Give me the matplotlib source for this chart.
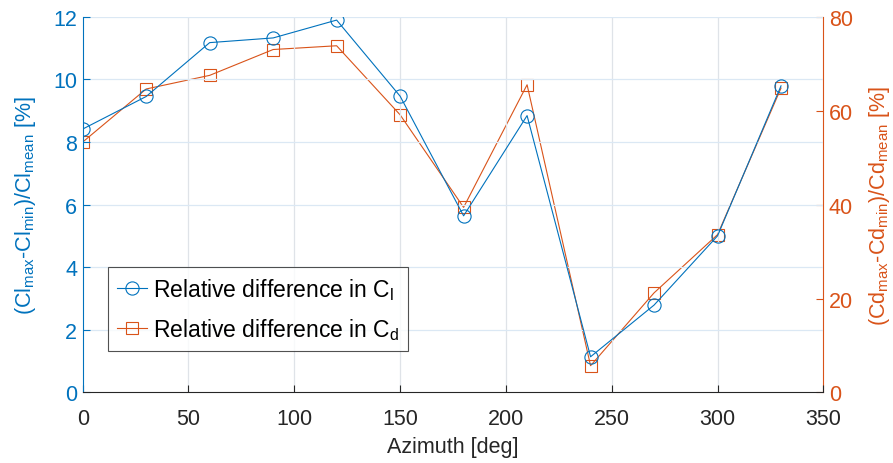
import matplotlib
matplotlib.use("Agg")
import matplotlib.pyplot as plt

plt.rcParams['font.family'] = ['Liberation Sans', 'DejaVu Sans']
plt.rcParams['mathtext.fontset'] = 'custom'
plt.rcParams['mathtext.rm'] = 'Liberation Sans'
plt.rcParams['mathtext.it'] = 'Liberation Sans'

azimuth = [0, 30, 60, 90, 120, 150, 180, 210, 240, 270, 300, 330]
cl_diff = [8.41, 9.45, 11.17, 11.32, 11.89, 9.46, 5.64, 8.84, 1.14, 2.79, 5.0, 9.79]
cd_diff = [53.3, 64.6, 67.5, 73.0, 73.8, 59.1, 39.4, 65.5, 5.7, 21.2, 33.6, 64.8]
xticks = [0, 50, 100, 150, 200, 250, 300, 350]
left_ticks = [0, 2, 4, 6, 8, 10, 12]
right_ticks = [0, 20, 40, 60, 80]

blue = '#0072BD'
orange = '#D95319'
dark = '#262626'
fs = 15.5

fig = plt.figure(figsize=(8.93, 4.64), dpi=100)
ax = fig.add_axes([0.0926, 0.152, 0.8294, 0.81])
ax2 = ax.twinx()

l1, = ax.plot(azimuth, cl_diff, '-o', color=blue, lw=0.8, ms=9.5,
              mfc='none', mew=0.8, label=r'Relative difference in C$_\mathrm{l}$')
l2, = ax2.plot(azimuth, cd_diff, '-s', color=orange, lw=0.8, ms=8,
               mfc='none', mew=0.8, label=r'Relative difference in C$_\mathrm{d}$')

ax.set_xlim(0, 350)
ax.set_ylim(0, 12)
ax2.set_ylim(0, 80)
ax.set_xticks(xticks)
ax.set_yticks(left_ticks)
ax2.set_yticks(right_ticks)

# grid: vertical gray, horizontal light blue
for x in xticks[1:-1]:
    ax.axvline(x, color='#dfe3e8', lw=0.9, zorder=0)
for y in left_ticks[1:]:
    ax.axhline(y, color='#dbe8f4', lw=0.9, zorder=0)

ax.spines['top'].set_visible(False)
ax2.spines['top'].set_visible(False)
ax.spines['left'].set_color(blue)
ax.spines['bottom'].set_color(dark)
ax2.spines['right'].set_color(orange)
ax2.spines['left'].set_visible(False)
ax2.spines['bottom'].set_visible(False)
ax.spines['right'].set_visible(False)

ax.tick_params(axis='x', direction='in', colors=dark, labelsize=fs, length=5, pad=11)
ax.tick_params(axis='y', direction='in', colors=blue, labelsize=fs, length=5, pad=4)
ax2.tick_params(axis='y', direction='in', colors=orange, labelsize=fs, length=5, pad=4)

ax.set_xlabel('Azimuth [deg]', fontsize=fs, color=dark, labelpad=5)
ax.set_ylabel(r'(Cl$_\mathrm{max}$-Cl$_\mathrm{min}$)/Cl$_\mathrm{mean}$ [%]',
              fontsize=fs, color=blue, labelpad=11)
ax2.set_ylabel(r'(Cd$_\mathrm{max}$-Cd$_\mathrm{min}$)/Cd$_\mathrm{mean}$ [%]',
               fontsize=fs, color=orange, labelpad=10, rotation=90)

leg = ax.legend(handles=[l1, l2], loc='lower left', bbox_to_anchor=(0.034, 0.111),
                fontsize=16.5, frameon=True, fancybox=False, handlelength=1.3,
                handletextpad=0.25, borderpad=0.4, labelspacing=0.6, borderaxespad=0)
leg.get_frame().set_edgecolor(dark)
leg.get_frame().set_linewidth(0.8)
leg.set_zorder(5)
ax.set_zorder(ax2.get_zorder() + 1)
ax.patch.set_visible(False)

fig.savefig('out.png', dpi=100)
